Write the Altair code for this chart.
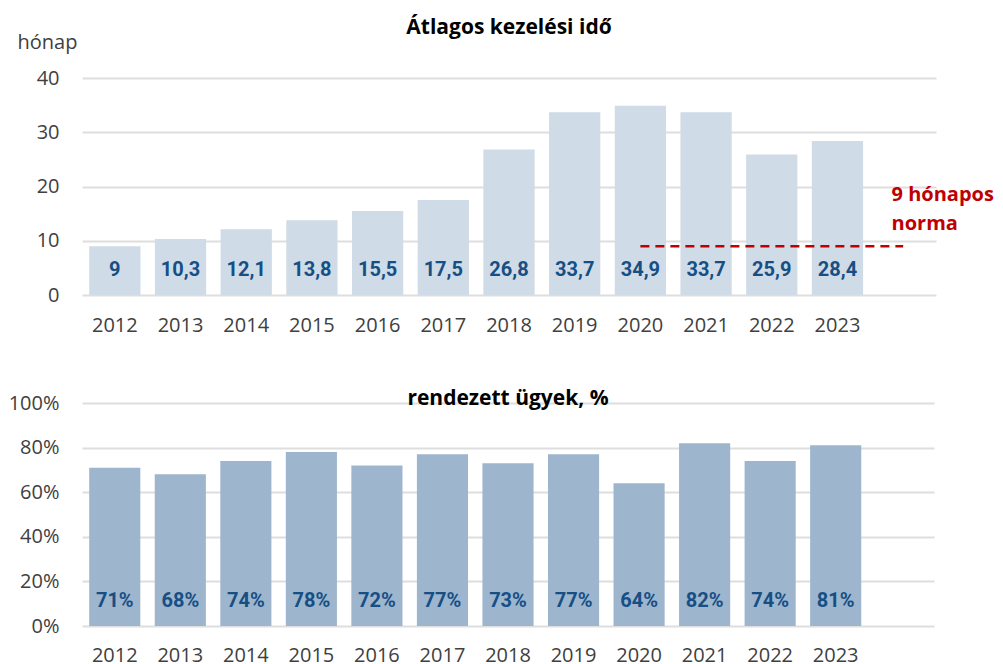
import altair as alt
import pandas as pd

years = ["2012", "2013", "2014", "2015", "2016", "2017", "2018", "2019", "2020", "2021", "2022", "2023"]
extra_band = " "
duration = [9, 10.3, 12.1, 13.8, 15.5, 17.5, 26.8, 33.7, 34.9, 33.7, 25.9, 28.4]
duration_labels = ["9", "10,3", "12,1", "13,8", "15,5", "17,5", "26,8", "33,7", "34,9", "33,7", "25,9", "28,4"]
settled = [71, 68, 74, 78, 72, 77, 73, 77, 64, 82, 74, 81]
settled_labels = ["71%", "68%", "74%", "78%", "72%", "77%", "73%", "77%", "64%", "82%", "74%", "81%"]
norm_value = 9
norm_start = "2020"
norm_label = "9 hónapos\nnorma"

top_title = "Átlagos kezelési idő"
bottom_title = "rendezett ügyek, %"
y_unit = "hónap"

FONT = "Open Sans"
NARROW = "Roboto"
LABEL_BLUE = "#164f85"
GRAY_TXT = "#404040"

domain = years + [extra_band]

df_top = pd.DataFrame({"year": years, "value": duration, "label": duration_labels})
df_bot = pd.DataFrame({"year": years, "value": [v / 100 for v in settled], "label": settled_labels})
df_norm = pd.DataFrame({"start": [norm_start], "end": [extra_band], "value": [norm_value], "label": [norm_label]})

x_scale = alt.Scale(domain=domain, paddingInner=0.22, paddingOuter=0.11)


def x_axis(pad):
    return alt.Axis(values=years, labelAngle=0, ticks=False, domain=False, grid=False,
                    labelPadding=pad, labelFontSize=20, labelColor=GRAY_TXT, labelFont=FONT, title=None)


# ---------- top chart ----------
base_top = alt.Chart(df_top)
bars_top = base_top.mark_bar(color="#cfdbe6").encode(
    x=alt.X("year:N", scale=x_scale, axis=x_axis(20)),
    y=alt.Y("value:Q", scale=alt.Scale(domain=[0, 40], nice=False),
            axis=alt.Axis(values=[0, 10, 20, 30, 40], ticks=False, domain=False,
                          labelPadding=23, labelFontSize=20, labelColor=GRAY_TXT, labelFont=FONT,
                          gridColor="#dedede", gridWidth=2,
                          title=y_unit, titleAngle=0, titleAlign="left", titleBaseline="middle",
                          titleX=-65, titleY=-36, titleFontSize=20, titleFontWeight="normal",
                          titleColor=GRAY_TXT, titleFont=FONT)),
)
labels_top = base_top.mark_text(font=NARROW, fontSize=20, fontWeight="bold", color=LABEL_BLUE,
                                baseline="middle", dy=-25).encode(
    x=alt.X("year:N", scale=x_scale),
    y=alt.Y("zero:Q"),
    text="label:N",
).transform_calculate(zero="0")

rule_norm = alt.Chart(df_norm).mark_rule(color="#c00000", strokeWidth=2.5, strokeDash=[9, 6]).encode(
    x=alt.X("start:N", scale=x_scale, bandPosition=0.5),
    x2=alt.X2("end:N", bandPosition=0.5),
    y="value:Q",
)
text_norm = alt.Chart(df_norm).mark_text(font=FONT, fontSize=20, fontWeight="bold", color="#c00000",
                                         align="left", baseline="bottom", lineBreak="\n",
                                         lineHeight=29, dx=14, dy=-41).encode(
    x=alt.X("end:N", scale=x_scale, bandPosition=0),
    y="value:Q",
    text="label:N",
)

top = alt.layer(bars_top, labels_top, rule_norm, text_norm).properties(
    width=854, height=217,
    title=alt.TitleParams(top_title, fontSize=21, fontWeight="bold", font=FONT, color="black",
                          anchor="middle", frame="group", offset=-6),
)

# ---------- bottom chart ----------
base_bot = alt.Chart(df_bot)
bars_bot = base_bot.mark_bar(color="#9db5cd").encode(
    x=alt.X("year:N", scale=x_scale, axis=x_axis(19)),
    y=alt.Y("value:Q", scale=alt.Scale(domain=[0, 1], nice=False),
            axis=alt.Axis(values=[0, 0.2, 0.4, 0.6, 0.8, 1.0], format=".0%", ticks=False, domain=False,
                          labelPadding=23, labelFontSize=20, labelColor=GRAY_TXT, labelFont=FONT,
                          gridColor="#dedede", gridWidth=2, title=None)),
)
labels_bot = base_bot.mark_text(font=NARROW, fontSize=20, fontWeight="bold", color=LABEL_BLUE,
                                baseline="middle", dy=-25).encode(
    x=alt.X("year:N", scale=x_scale),
    y=alt.Y("zero:Q"),
    text="label:N",
).transform_calculate(zero="0")

bottom = alt.layer(bars_bot, labels_bot).properties(
    width=852, height=223,
    title=alt.TitleParams(bottom_title, fontSize=21, fontWeight="bold", font=FONT, color="black",
                          anchor="middle", frame="group", offset=-16),
)

chart = alt.vconcat(top, bottom, spacing=53).properties(
    padding={"top": 9, "left": 0, "right": 0, "bottom": 0}
).configure_view(stroke=None).configure_axis(labelFont=FONT)

chart.save("out.html", embed_options={"renderer": "svg", "actions": False})
